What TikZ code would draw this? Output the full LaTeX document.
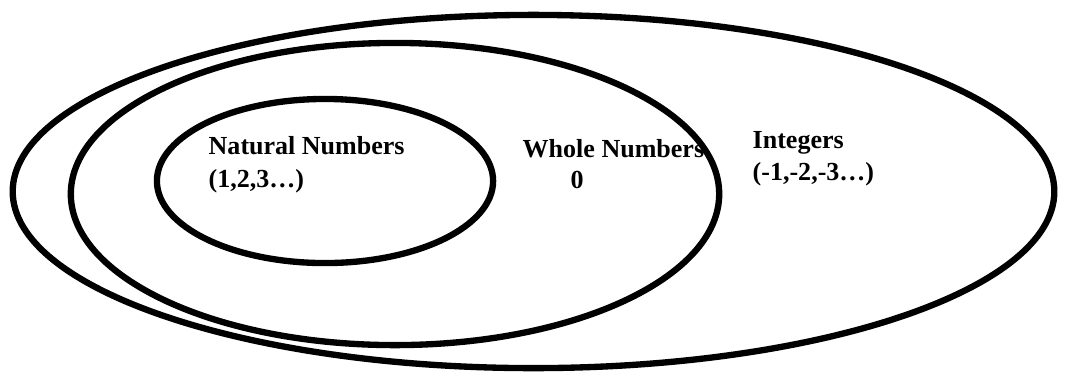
\documentclass[tikz,border=0pt]{standalone}
\usepackage{fontspec}
\setmainfont{Liberation Serif}
\tikzset{
  set/.style={line width=1.8pt},
  lbl/.style={anchor=base west, inner sep=0pt,
    font=\bfseries\fontsize{7.4}{9}\selectfont}
}
\begin{document}
\begin{tikzpicture}[x=0.01cm, y=-0.01cm]
  \useasboundingbox (0,0) rectangle (1068,375);

  % Les ensembles
  \draw[set] (533.5,191.5) ellipse [x radius=5.205cm, y radius=1.765cm]; % Z
  \draw[set] (395,194) ellipse [x radius=3.24cm, y radius=1.51cm];       % W
  \draw[set] (325,181) ellipse [x radius=1.68cm, y radius=0.82cm];       % N

  % Les textes
  \node[lbl] (natural) at (208,154) {Natural Numbers};
  \node[lbl] (naturalex) at (208,187) {(1,2,3…)};
  \node[lbl] (whole) at (522,157) {Whole Numbers};
  \node[lbl] (wholeex) at (570,188) {0};
  \node[lbl] (integers) at (752,148) {Integers};
  \node[lbl] (integersex) at (752,180) {(-1,-2,-3…)};
\end{tikzpicture}
\end{document}
